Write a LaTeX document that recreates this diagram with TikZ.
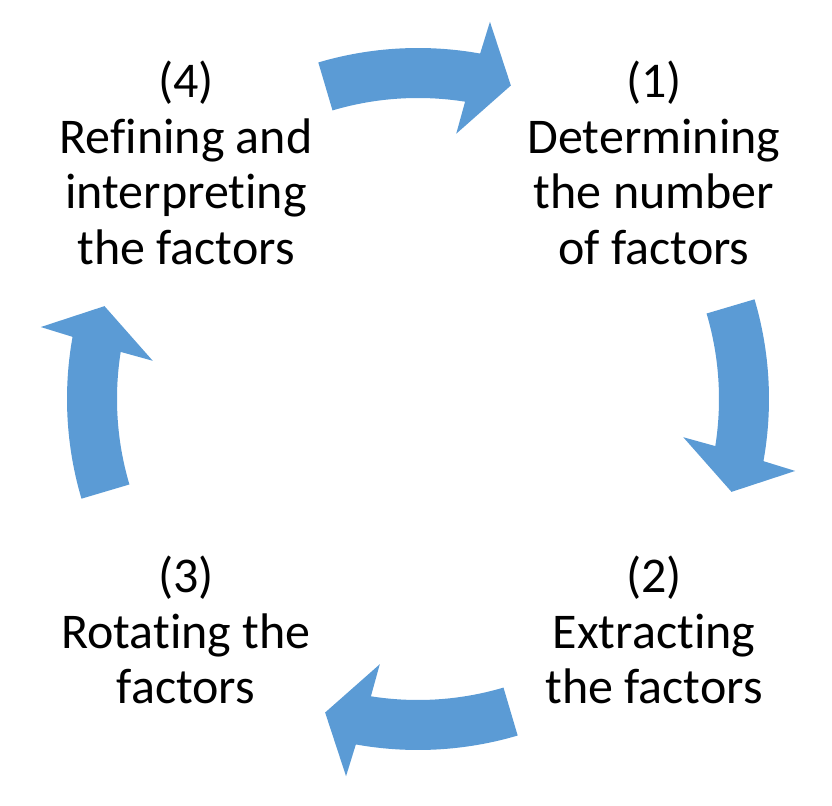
\documentclass[tikz,border=0pt]{standalone}
\usepackage{fontspec}
\setmainfont{Carlito}[Ligatures=NoCommon]
\definecolor{cycleblue}{HTML}{5B9BD5}

\begin{document}
\begin{tikzpicture}[x=0.75pt, y=0.75pt,
  blockarrow/.style={fill=cycleblue},
  phase/.style={align=center, font=\fontsize{37.5}{41.8}\selectfont, inner sep=0pt}]
  \useasboundingbox (-418,-407) rectangle (414,399);

  % Curved block arrows around the cycle
  \foreach \a in {90,0,-90,180} {
    \fill[blockarrow] (\a+16.5:351) arc[start angle=\a+16.5, end angle=\a-10.2, radius=351]
      -- (\a-10.8:384) -- (\a-16.5:327) -- (\a-8.2:268) -- (\a-9.0:301)
      arc[start angle=\a-9.0, end angle=\a+16.5, radius=301] -- cycle;
  }

  % Phase labels
  \node[phase] (determine) at (236,236)  {(1)\\Determining\\the number\\of factors};
  \node[phase] (extract)   at (236,-231) {(2)\\Extracting\\the factors};
  \node[phase] (rotate)    at (-232,-231) {(3)\\Rotating the\\factors};
  \node[phase] (refine)    at (-232,236) {(4)\\Refining and\\interpreting\\the factors};
\end{tikzpicture}
\end{document}
